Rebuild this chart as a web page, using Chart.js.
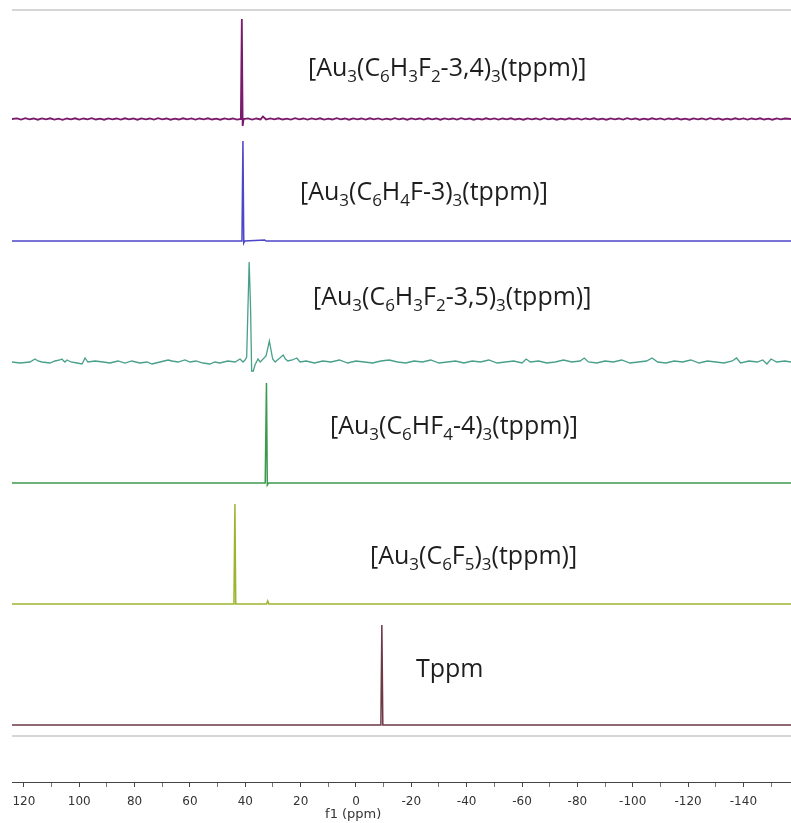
<!DOCTYPE html>
<html><head><meta charset="utf-8">
<script src="https://cdn.jsdelivr.net/npm/chart.js@4.4.0/dist/chart.umd.min.js"></script>
<style>html,body{margin:0;padding:0;background:#fff;}#wrap{width:791px;height:823px;position:relative;}</style>
</head><body><div id="wrap"><canvas id="c" width="791" height="823"></canvas></div>
<script>
// ---------- data (chemical shift ppm, relative intensity; tallest peak = 100) ----------
const TICK_VALUES = [120,110,100,90,80,70,60,50,40,30,20,10,0,-10,-20,-30,-40,-50,-60,-70,-80,-90,-100,-110,-120,-130,-140,-150];
const AXIS_TITLE = 'f1 (ppm)';

const SERIES_NAMES = [
  '[Au_3(C_6H_3F_2-3,4)_3(tppm)]',
  '[Au_3(C_6H_4F-3)_3(tppm)]',
  '[Au_3(C_6H_3F_2-3,5)_3(tppm)]',
  '[Au_3(C_6HF_4-4)_3(tppm)]',
  '[Au_3(C_6F_5)_3(tppm)]',
  'Tppm'
];

const SPEC_34F2 = [[124.3,0],[122.5,0.6],[121,-0.5],[119.5,0.8],[118,-0.4],[116.5,0.5],[115,-0.7],[113.5,0.6],[112,-0.3],[110.5,0.7],[109,-0.6],[107.5,0.4],[106,-0.8],[104.5,0.5],[103,-0.3],[101.5,0.7],[100,-0.6],[98.5,0.5],[97,-0.4],[95.5,0.8],[94,-0.5],[92.5,0.4],[91,-0.7],[89.5,0.6],[88,-0.4],[86.5,0.5],[85,-0.6],[83.5,0.7],[82,-0.3],[80.5,0.5],[79,-0.7],[77.5,0.6],[76,-0.4],[74.5,0.5],[73,-0.6],[71.5,0.8],[70,-0.4],[68.5,0.5],[67,-0.7],[65.5,0.4],[64,-0.5],[62.5,0.7],[61,-0.4],[59.5,0.6],[58,-0.6],[56.5,0.5],[55,-0.3],[53.5,0.7],[52,-0.5],[50.5,0.4],[49,-0.7],[47.5,0.6],[46,-0.4],[44.5,0.5],[43,-0.6],[41.6,0],[41.25,100],[40.95,-7],[40.6,0],[39,0.6],[37.5,-0.5],[36,0.5],[34.5,-0.4],[33.6,2.5],[32.5,-0.5],[31,0.6],[29.5,-0.4],[28,0.7],[26.5,-0.5],[25,0.4],[23.5,-0.6],[22,0.8],[20.5,-0.4],[19,0.5],[17.5,-0.6],[16,0.6],[14.5,-0.3],[13,0.7],[11.5,-0.6],[10,0.4],[8.5,-0.5],[7,0.8],[5.5,-0.4],[4,0.5],[2.5,-0.7],[1,0.6],[-0.5,-0.4],[-2,0.5],[-3.5,-0.6],[-5,0.7],[-6.5,-0.3],[-8,0.6],[-9.5,-0.6],[-11,0.4],[-12.5,-0.5],[-14,0.8],[-15.5,-0.4],[-17,0.5],[-18.5,-0.7],[-20,0.6],[-21.5,-0.4],[-23,0.5],[-24.5,-0.6],[-26,0.7],[-27.5,-0.3],[-29,0.5],[-30.5,-0.7],[-32,0.6],[-33.5,-0.4],[-35,0.5],[-36.5,-0.6],[-38,0.8],[-39.5,-0.4],[-41,0.5],[-42.5,-0.7],[-44,0.4],[-45.5,-0.5],[-47,0.7],[-48.5,-0.4],[-50,0.6],[-51.5,-0.6],[-53,0.5],[-54.5,-0.3],[-56,0.7],[-57.5,-0.5],[-59,0.4],[-60.5,-0.7],[-62,0.6],[-63.5,-0.4],[-65,0.5],[-66.5,-0.6],[-68,0.8],[-69.5,-0.4],[-71,0.5],[-72.5,-0.7],[-74,0.4],[-75.5,-0.5],[-77,0.7],[-78.5,-0.4],[-80,0.6],[-81.5,-0.6],[-83,0.5],[-84.5,-0.3],[-86,0.7],[-87.5,-0.5],[-89,0.4],[-90.5,-0.7],[-92,0.6],[-93.5,-0.4],[-95,0.5],[-96.5,-0.6],[-98,0.8],[-99.5,-0.4],[-101,0.5],[-102.5,-0.7],[-104,0.4],[-105.5,-0.5],[-107,0.7],[-108.5,-0.4],[-110,0.6],[-111.5,-0.6],[-113,0.5],[-114.5,-0.3],[-116,0.7],[-117.5,-0.5],[-119,0.4],[-120.5,-0.7],[-122,0.6],[-123.5,-0.4],[-125,0.5],[-126.5,-0.6],[-128,0.8],[-129.5,-0.4],[-131,0.5],[-132.5,-0.7],[-134,0.4],[-135.5,-0.5],[-137,0.7],[-138.5,-0.4],[-140,0.6],[-141.5,-0.6],[-143,0.5],[-144.5,-0.3],[-146,0.7],[-147.5,-0.5],[-149,0.4],[-150.5,-0.7],[-152,0.6],[-153.5,-0.4],[-155,0.5],[-157.2,0]];
const SPEC_3F = [[124.3,0],[41.2,0],[40.85,100],[40.55,-2],[40.2,0],[33,1],[32.5,0],[-157.2,0]];
const SPEC_35F2 = [[124.3,0],[121.4,-1],[117.8,0],[116.0,3],[114.9,1],[113.5,0],[110.6,-1],[108.8,1],[107.0,2],[106.3,3],[105.2,0],[104.4,2],[103.0,0],[100.8,-1],[99.0,-2],[97.9,4],[96.9,0],[94.3,1],[91.4,0],[88.9,-1],[86.0,1],[83.5,-1],[81.0,1],[78.1,-1],[75.5,0],[73.7,-2],[70.8,0],[67.9,2],[66.5,1],[64.3,0],[61.8,2],[60.0,0],[57.8,1],[55.3,-1],[52.8,-2],[51.0,0],[49.2,-1],[46.3,1],[43.7,0],[41.9,3],[40.8,0],[40.1,2],[39.5,5],[38.6,100],[38.1,55],[37.7,-9],[37.1,-9],[36.5,-3],[35.4,3],[34.6,0],[32.5,6],[31.3,21],[30.1,3],[29.2,0],[28.4,2],[27.5,4],[26.3,7],[25.5,3],[24.6,1],[23,2],[21.4,4],[20.2,0],[18,1],[15,-1],[12,1],[9,0],[6,2],[3,-1],[0,1],[-3,0],[-6,-1],[-9,1],[-12,2],[-15,0],[-18,-1],[-21,1],[-24,0],[-27,2],[-30,-1],[-33,0],[-36,1],[-39,-1],[-42,1],[-45,0],[-48,2],[-51,-1],[-54,0],[-57,1],[-60,-1],[-61.5,3],[-63,0],[-66,1],[-69,-1],[-72,0],[-75,2],[-78,0],[-81,1],[-82.5,4],[-84,0],[-87,-1],[-90,1],[-93,0],[-96,2],[-99,-1],[-102,0],[-105,1],[-107,4],[-109,0],[-112,-1],[-115,1],[-118,0],[-121,2],[-124,-1],[-127,1],[-130,0],[-133,-1],[-136,1],[-137.5,4],[-139,-1],[-142,1],[-145,0],[-147,2],[-148.5,-2],[-150,3],[-152,0],[-155,1],[-157.2,0]];
const SPEC_HF4 = [[124.3,0],[32.8,0],[32.35,100],[32.05,-2],[31.6,0],[-157.2,0]];
const SPEC_F5 = [[124.3,0],[44.1,0],[43.75,100],[43.45,0],[32.3,0],[31.9,3],[31.5,0],[-157.2,0]];
const SPEC_TPPM = [[124.3,0],[-9.0,0],[-9.35,100],[-9.7,0],[-157.2,0]];

// ---------- layout / style ----------
const SPECTRA = [SPEC_34F2, SPEC_3F, SPEC_35F2, SPEC_HF4, SPEC_F5, SPEC_TPPM];
const COLORS = ['#7a1a6c','#4c46c8','#48a08a','#3c9a4c','#9cb530','#6e3846'];
const WIDTHS = [1.8,1.5,1.3,1.5,1.5,1.5];
const OFFSETS = [663,541,420,299,178,57];
const LABEL_X_PPM = [17.35,20.24,15.54,9.40,-5.06,-21.68];
const LABEL_DY = [43,41,57,49,40,48];
const FRAME_Y = [772,46];

const datasets = SPECTRA.map((s,i)=>({
  label: SERIES_NAMES[i].replace(/_/g,''),
  data: s.map(p=>({x:p[0], y:p[1]+OFFSETS[i]})),
  borderColor: COLORS[i], borderWidth: WIDTHS[i], pointRadius: 0, tension: 0, fill: false
}));

function drawFormula(ctx, text, x, y, size){
  const parts = [];
  for (let i=0;i<text.length;i++){
    if (text[i]==='_' ){ parts.push({t:text[i+1], sub:true}); i++; }
    else parts.push({t:text[i], sub:false});
  }
  ctx.textBaseline='alphabetic'; ctx.textAlign='left'; ctx.fillStyle='#1e1e1e';
  let cx = x;
  for (const p of parts){
    ctx.font = (p.sub? Math.round(size*0.68): size)+'px "Open Sans"';
    ctx.fillText(p.t, cx, y + (p.sub? size*0.24:0));
    cx += ctx.measureText(p.t).width;
  }
}

const decor = {
  id:'decor',
  beforeDatasetsDraw(chart){
    const {ctx, scales:{y}, chartArea:a} = chart;
    ctx.save(); ctx.strokeStyle='#d6d6d6'; ctx.lineWidth=2;
    FRAME_Y.forEach(v=>{const py=Math.round(y.getPixelForValue(v)); ctx.beginPath(); ctx.moveTo(a.left,py); ctx.lineTo(a.right,py); ctx.stroke();});
    ctx.restore();
  },
  afterDatasetsDraw(chart){
    const {ctx, scales:{x,y}} = chart;
    ctx.save();
    SERIES_NAMES.forEach((n,i)=>{
      drawFormula(ctx, n, x.getPixelForValue(LABEL_X_PPM[i]), y.getPixelForValue(OFFSETS[i]+LABEL_DY[i]), 25);
    });
    ctx.font='13px "DejaVu Sans"'; ctx.fillStyle='#333'; ctx.textAlign='center'; ctx.textBaseline='middle';
    ctx.fillText(AXIS_TITLE, x.getPixelForValue(1), 815);
    ctx.restore();
  }
};

new Chart(document.getElementById('c'), {
  type:'line',
  data:{datasets},
  options:{
    responsive:false, animation:false, devicePixelRatio:1,
    layout:{padding:{left:12,right:0,top:0,bottom:0}},
    plugins:{legend:{display:false}, tooltip:{enabled:false}},
    scales:{
      x:{type:'linear', reverse:true, min:-157.2, max:124.3,
        afterBuildTicks: s=>{ s.ticks = TICK_VALUES.map(v=>({value:v})); },
        afterFit: s=>{ s.height = 41; },
        grid:{drawOnChartArea:false, drawTicks:true, tickLength:5,
          tickColor: c=> (c.tick && c.tick.value%20===0)?'#444':'#777'},
        border:{display:true, color:'#444', width:1},
        ticks:{autoSkip:false, maxRotation:0, padding:8, color:'#333',
          font:{family:'DejaVu Sans', size:12},
          callback: v=> (v%20===0)? String(v) : ''}
      },
      y:{display:false, min:0, max:782}
    }
  },
  plugins:[decor]
});
</script></body></html>
